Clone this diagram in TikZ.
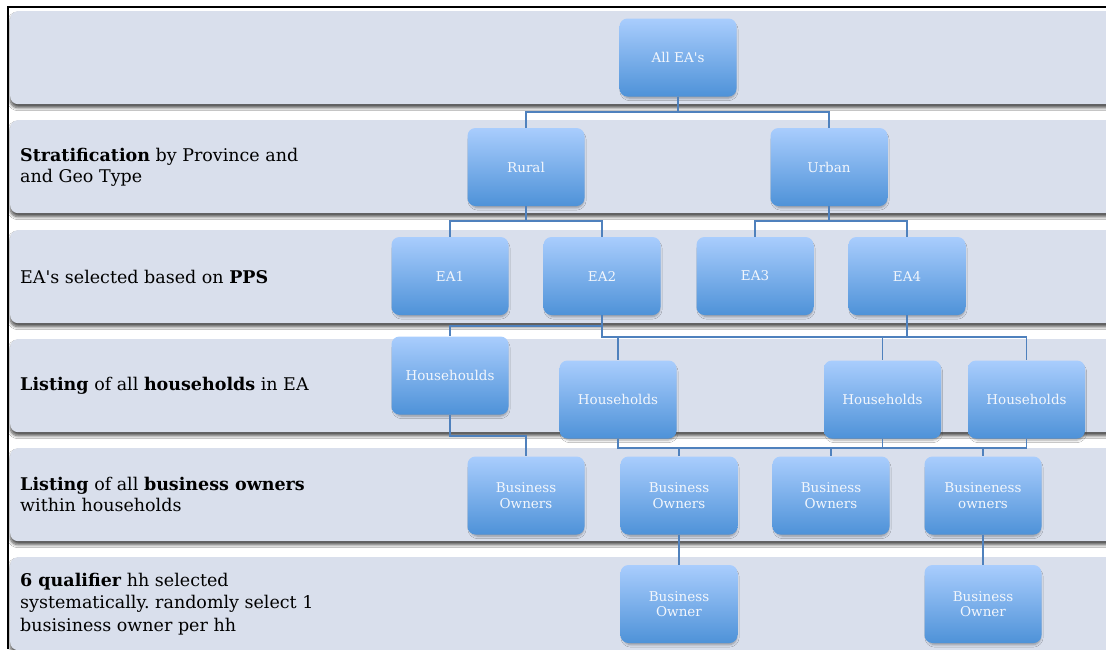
\documentclass[tikz,border=0pt]{standalone}
\usepackage{fontspec}
\setmainfont{DejaVu Serif}
\usetikzlibrary{shadows.blur}
\definecolor{bandfill}{HTML}{D9DFEC}
\definecolor{boxtop}{HTML}{A9CDFD}
\definecolor{boxbot}{HTML}{4E92D8}
\definecolor{connc}{HTML}{4F81BD}
\definecolor{boxtext}{HTML}{F2F6FC}
\begin{document}
\frenchspacing
\begin{tikzpicture}[x=1pt,y=-1pt,
  band/.style={fill=bandfill, rounded corners=8pt, minimum width=1130pt, minimum height=93pt, anchor=north west, inner sep=0pt,
    blur shadow={shadow xshift=0pt, shadow yshift=-3.5pt, shadow blur steps=6, shadow blur radius=3pt, shadow opacity=70}},
  box/.style={minimum width=117pt, minimum height=78pt, rounded corners=8pt, top color=boxtop, bottom color=boxbot,
    text=boxtext, align=center, font=\fontsize{13.5}{15.5}\selectfont, inner sep=2pt,
    blur shadow={shadow xshift=1pt, shadow yshift=-3pt, shadow scale=0.97, shadow blur steps=5, shadow blur radius=2.5pt, shadow opacity=35}},
  lab/.style={anchor=west, align=left, inner sep=0pt, font=\fontsize{17.5}{21}\selectfont, text=black},
  connl/.style={draw=connc, line width=1.7pt}
]
\useasboundingbox (0,0) rectangle (1106,649);
\clip (0,0) rectangle (1106,649);
\fill[white] (0,0) rectangle (1106,649);
% bands
\node[band] (b1) at (10,11) {};
\node[band] (b2) at (10,120) {};
\node[band] (b3) at (10,230) {};
\node[band] (b4) at (10,339) {};
\node[band] (b5) at (10,448) {};
\node[band] (b6) at (10,557) {};
% labels
\node[lab] (l2) at (20,167) {\textbf{Stratification} by Province and\\and Geo Type};
\node[lab] (l3) at (20,277) {EA\textquotesingle s selected based on \textbf{PPS}};
\node[lab] (l4) at (20,385.5) {\textbf{Listing} of all \textbf{households} in EA};
\node[lab] (l5) at (20,494.5) {\textbf{Listing} of all \textbf{business owners}\\within households};
\node[lab, font=\fontsize{17.5}{22.5}\selectfont] (l6) at (20,604) {\textbf{6 qualifier} hh selected\\systematically. randomly select 1\\busisiness owner per hh};
% boxes
\node[box] (all) at (678,57.5) {All EA\textquotesingle s};
\node[box] (rural) at (526,167) {Rural};
\node[box] (urban) at (829,167) {Urban};
\node[box] (ea1) at (450,276) {EA1};
\node[box] (ea2) at (602,276) {EA2};
\node[box] (ea3) at (755,276) {EA3};
\node[box] (ea4) at (907,276) {EA4};
\node[box] (hh1) at (450,375.5) {Househoulds};
\node[box] (hh2) at (618,399.5) {Households};
\node[box] (hh3) at (882.5,399.5) {Households};
\node[box] (hh4) at (1026.5,399.5) {Households};
\node[box] (bo1) at (526,495.5) {Business\\Owners};
\node[box] (bo2) at (679,495.5) {Business\\Owners};
\node[box] (bo3) at (831,495.5) {Business\\Owners};
\node[box] (bo4) at (983,495.5) {Busineness\\owners};
\node[box] (bf1) at (679,604) {Business\\Owner};
\node[box] (bf2) at (983,604) {Business\\Owner};
% connectors
\draw[connl] (all.south) -- ++(0,15) -| (rural.north);
\draw[connl] (all.south) -- ++(0,15) -| (urban.north);
\draw[connl] (rural.south) -- ++(0,15) -| (ea1.north);
\draw[connl] (rural.south) -- ++(0,15) -| (ea2.north);
\draw[connl] (urban.south) -- ++(0,15) -| (ea3.north);
\draw[connl] (urban.south) -- ++(0,15) -| (ea4.north);
\draw[connl] (ea2.south) -- ++(0,11) -| (hh1.north);
\draw[connl] (ea2.south) -- ++(0,22) -| (hh2.north);
\draw[connl] (ea2.south) -- ++(0,22) -| (hh3.north);
\draw[connl] (ea4.south) -- ++(0,22) -| (hh3.north);
\draw[connl] (ea4.south) -- ++(0,22) -| (hh4.north);
\draw[connl] (hh1.south) -- ++(0,21) -| (bo1.north);
\draw[connl] (hh2.south) -- ++(0,9) -| (bo2.north);
\draw[connl] (hh2.south) -- ++(0,9) -| (bo3.north);
\draw[connl] (hh2.south) -- ++(0,9) -| (bo4.north);
\draw[connl] (hh3.south) -- ++(0,9) -| (bo3.north);
\draw[connl] (hh4.south) -- ++(0,9) -| (bo4.north);
\draw[connl] (bo2.south) -- (bf1.north);
\draw[connl] (bo4.south) -- (bf2.north);
% frame
\draw[black, line width=2pt] (8,649) -- (8,7) -- (1106,7);
\end{tikzpicture}
\end{document}
